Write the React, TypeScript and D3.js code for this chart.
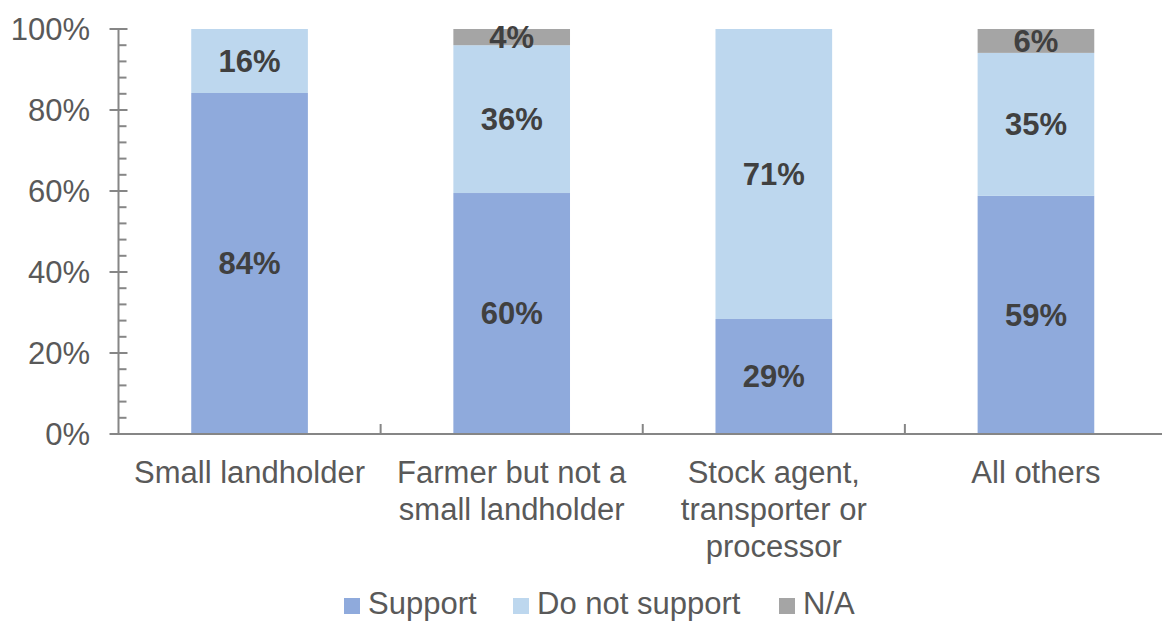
import React from "react";
import * as d3 from "d3";

const categories = [
  ["Small landholder"],
  ["Farmer but not a", "small landholder"],
  ["Stock agent,", "transporter or", "processor"],
  ["All others"],
];
const seriesNames = ["Support", "Do not support", "N/A"];
const support = [84.2, 59.5, 28.4, 58.8];
const doNotSupport = [15.8, 36.5, 71.6, 35.3];
const notApplicable = [0, 4.0, 0, 5.9];
const supportLabels = ["84%", "60%", "29%", "59%"];
const doNotSupportLabels = ["16%", "36%", "71%", "35%"];
const notApplicableLabels = ["", "4%", "", "6%"];
const yTicks = [0, 20, 40, 60, 80, 100];
const colors = ["#8FAADC", "#BDD7EE", "#A5A5A5"];

const W = 1162;
const H = 623;
const x0 = 118.5;
const x1 = 1167;
const yBottom = 434;
const yTop = 29;
const FONT = "'Liberation Sans', Arial, sans-serif";

export default function App() {
  const x = d3
    .scaleBand<number>()
    .domain(d3.range(categories.length))
    .range([x0, x1])
    .paddingInner(0.555)
    .paddingOuter(0.2775);
  const y = d3.scaleLinear().domain([0, 100]).range([yBottom, yTop]);
  const series = [support, doNotSupport, notApplicable];
  const labels = [supportLabels, doNotSupportLabels, notApplicableLabels];
  const step = (x1 - x0) / categories.length;
  const minorTicks = d3.range(0, 101, 4).filter((v) => v % 20 !== 0);
  const stack = d3
    .stack<number>()
    .keys([0, 1, 2] as any)
    .value((i: number, k: any) => series[k][i])(d3.range(categories.length) as any);

  const legendX = [344, 513, 779];

  return (
    <svg width={W} height={H} style={{ position: "absolute", left: 0, top: 0 }}>
      <rect width={W} height={H} fill="#fff" />
      {/* bars */}
      {stack.map((layer, si) =>
        layer.map((seg, ci) => {
          const h = y(seg[0]) - y(seg[1]);
          if (h <= 0) return null;
          return (
            <rect
              key={`b${si}-${ci}`}
              x={x(ci)}
              y={y(seg[1])}
              width={x.bandwidth()}
              height={h}
              fill={colors[si]}
            />
          );
        })
      )}
      {/* axes */}
      <g stroke="#868686" strokeWidth={2}>
        <line x1={x0} x2={x1} y1={yBottom} y2={yBottom} />
        <line x1={x0} x2={x0} y1={yTop} y2={yBottom} />
        {yTicks.map((t) => (
          <line key={`mt${t}`} x1={x0 - 9} x2={x0 + 9} y1={y(t)} y2={y(t)} />
        ))}
        {minorTicks.map((t) => (
          <line key={`nt${t}`} x1={x0} x2={x0 + 8} y1={y(t)} y2={y(t)} />
        ))}
        {d3.range(1, categories.length).map((i) => (
          <line key={`ct${i}`} x1={x0 + i * step} x2={x0 + i * step} y1={yBottom - 10} y2={yBottom} />
        ))}
      </g>
      {/* y tick labels */}
      {yTicks.map((t) => (
        <text
          key={`yl${t}`}
          x={90}
          y={y(t)}
          dy="0.35em"
          textAnchor="end"
          fontFamily={FONT}
          fontSize={31}
          fill="#595959"
        >
          {`${t}%`}
        </text>
      ))}
      {/* category labels */}
      {categories.map((lines, ci) => (
        <text
          key={`cl${ci}`}
          textAnchor="middle"
          fontFamily={FONT}
          fontSize={31}
          fill="#595959"
        >
          {lines.map((ln, li) => (
            <tspan key={li} x={x(ci)! + x.bandwidth() / 2} y={yBottom + 49 + li * 37}>
              {ln}
            </tspan>
          ))}
        </text>
      ))}
      {/* data labels */}
      {stack.map((layer, si) =>
        layer.map((seg, ci) => {
          const txt = labels[si][ci];
          if (!txt) return null;
          const cy = Math.max((y(seg[0]) + y(seg[1])) / 2, 22);
          return (
            <text
              key={`dl${si}-${ci}`}
              x={x(ci)! + x.bandwidth() / 2}
              y={cy}
              dy="0.35em"
              textAnchor="middle"
              fontFamily={FONT}
              fontSize={31}
              fontWeight="bold"
              fill="#404040"
            >
              {txt}
            </text>
          );
        })
      )}
      {/* legend */}
      {seriesNames.map((name, i) => (
        <g key={`lg${i}`}>
          <rect x={legendX[i]} y={598} width={16} height={16} fill={colors[i]} />
          <text x={legendX[i] + 24} y={614} fontFamily={FONT} fontSize={31} fill="#595959">
            {name}
          </text>
        </g>
      ))}
    </svg>
  );
}
